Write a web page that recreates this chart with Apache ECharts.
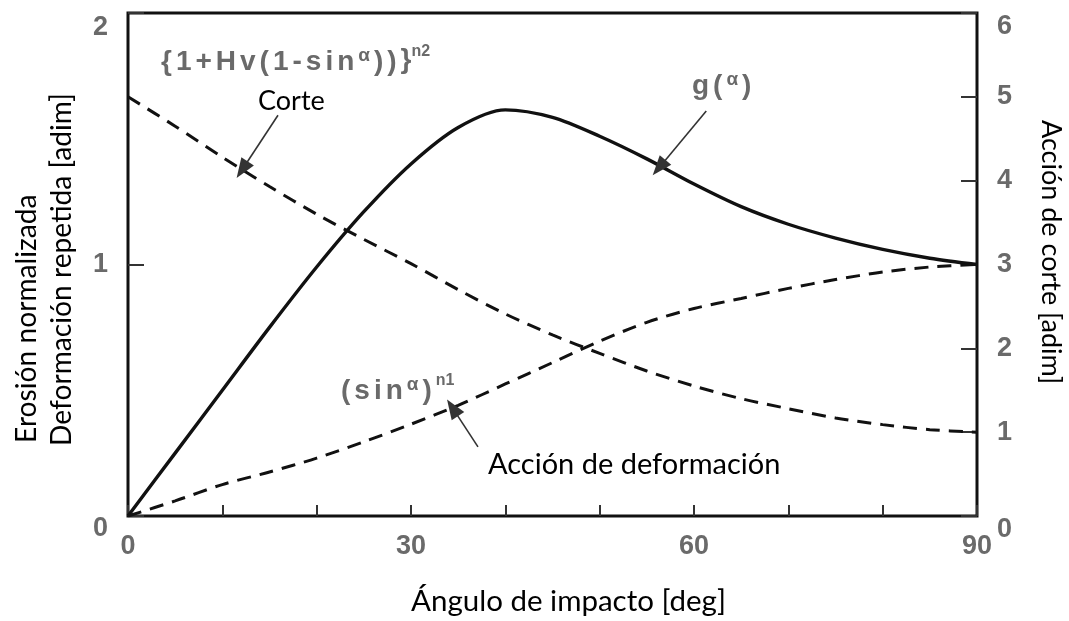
<!DOCTYPE html>
<html>
<head>
<meta charset="utf-8">
<script src="https://cdn.jsdelivr.net/npm/echarts@6/dist/echarts.min.js"></script>
<style>
  html, body { margin: 0; padding: 0; background: #fff; }
  #chart { width: 1069px; height: 621px; }
</style>
</head>
<body>
<div id="chart"></div>
<script>
// Impact angle (degrees)
const angles = [0, 5, 10, 15, 20, 25, 30, 35, 40, 45, 50, 55, 60, 65, 70, 75, 80, 85, 90];
// g(alpha): normalized erosion (left axis)
const gValues = [0, 0.25, 0.50, 0.75, 0.99, 1.21, 1.40, 1.545, 1.615, 1.585, 1.51, 1.42, 1.32, 1.23, 1.16, 1.105, 1.06, 1.025, 1.00];
// {1+Hv(1-sin a)}^n2: cutting action (right axis)
const corteValues = [5.00, 4.65, 4.28, 3.93, 3.60, 3.30, 3.01, 2.70, 2.41, 2.16, 1.94, 1.73, 1.55, 1.40, 1.28, 1.17, 1.09, 1.03, 1.00];
// (sin a)^n1: repeated deformation (left axis)
const deformValues = [0, 0.06, 0.125, 0.175, 0.23, 0.295, 0.365, 0.44, 0.525, 0.61, 0.695, 0.77, 0.825, 0.865, 0.905, 0.94, 0.97, 0.99, 1.00];

const xLabelTicks = [0, 30, 60, 90];
const leftTicks = [0, 1, 2];
const rightTicks = [0, 1, 2, 3, 4, 5, 6];

const pairs = (vals) => angles.map((a, i) => [a, vals[i]]);

const black = '#111';
const grey = '#6a6a6a';
const sansBlack = 'Lato, "Open Sans", sans-serif';
const sansGrey = '"Liberation Sans", Arial, sans-serif';

// Letter-spaced grey formula text built from rich tokens
function spaced(str, style) {
  return Array.from(str).map(ch => ch === '}' ? ch : '{' + style + '|' + ch + '}').join('');
}
const formulaRich = {
  f: { fontFamily: sansGrey, fontSize: 28, fontWeight: 'bold', fill: grey, padding: [0, 4, 0, 0], lineHeight: 32, verticalAlign: 'bottom' },
  al: { fontFamily: sansGrey, fontSize: 19, fontWeight: 'bold', fill: grey, padding: [0, 4, 11, 0], lineHeight: 22, verticalAlign: 'bottom' },
  sup: { fontFamily: sansGrey, fontSize: 16, fontWeight: 'bold', fill: grey, lineHeight: 18, verticalAlign: 'top' }
};

const arrowStyle = { color: '#333', width: 1.6, type: 'solid' };
function arrow(from, to) {
  return {
    silent: true,
    animation: false,
    symbol: ['none', 'triangle'],
    symbolSize: [15, 20],
    lineStyle: arrowStyle,
    itemStyle: { color: '#111' },
    label: { show: false },
    emphasis: { disabled: true },
    data: [[{ coord: from }, { coord: to }]]
  };
}

const chart = echarts.init(document.getElementById('chart'), null, { renderer: 'canvas' });

const tickLabelStyle = { fontFamily: sansGrey, fontSize: 27, fontWeight: 'bold', color: grey };

chart.setOption({
  animation: false,
  backgroundColor: '#fff',
  grid: { left: 128, right: 92, top: 13, bottom: 99, show: true, borderColor: black, borderWidth: 3, backgroundColor: 'transparent' },
  xAxis: {
    type: 'value', min: 0, max: 90, interval: 10,
    axisLine: { show: false },
    axisTick: { show: true, inside: true, length: 11, lineStyle: { color: '#333', width: 2 } },
    splitLine: { show: false },
    axisLabel: Object.assign({
      margin: 17,
      formatter: (v) => xLabelTicks.includes(v) ? String(v) : ''
    }, tickLabelStyle),
    name: 'Ángulo de impacto [deg]',
    nameLocation: 'middle',
    nameGap: 70,
    nameTextStyle: { fontFamily: sansBlack, fontSize: 29.5, color: '#000', padding: [0, 0, 0, 32] }
  },
  yAxis: [
    {
      type: 'value', min: 0, max: 2, interval: 1, position: 'left',
      axisLine: { show: false },
      axisTick: { show: true, inside: true, length: 16, lineStyle: { color: '#333', width: 2 } },
      splitLine: { show: false },
      axisLabel: Object.assign({
        margin: 20,
        verticalAlignMinLabel: 'middle',
        verticalAlignMaxLabel: 'middle',
        formatter: (v) => leftTicks.includes(v) ? (v === 2 ? '{top|2}' : v === 0 ? '{bot|0}' : String(v)) : '',
        rich: {
          top: Object.assign({ padding: [30, 0, 0, 0] }, tickLabelStyle),
          bot: Object.assign({ padding: [26, 0, 0, 0] }, tickLabelStyle)
        }
      }, tickLabelStyle)
    },
    {
      type: 'value', min: 0, max: 6, interval: 1, position: 'right',
      axisLine: { show: false },
      axisTick: { show: true, inside: true, length: 16, lineStyle: { color: '#333', width: 2 } },
      splitLine: { show: false },
      axisLabel: Object.assign({
        margin: 20,
        verticalAlignMinLabel: 'middle',
        verticalAlignMaxLabel: 'middle',
        formatter: (v) => rightTicks.includes(v) ? (v === 6 ? '{top|6}' : v === 0 ? '{bot|0}' : String(v)) : '',
        rich: {
          top: Object.assign({ padding: [28, 0, 0, 0] }, tickLabelStyle),
          bot: Object.assign({ padding: [28, 0, 0, 0] }, tickLabelStyle)
        }
      }, tickLabelStyle)
    }
  ],
  series: [
    {
      name: 'g(α)', type: 'line', xAxisIndex: 0, yAxisIndex: 0,
      data: pairs(gValues), smooth: 0.3, showSymbol: false, symbol: 'none',
      lineStyle: { color: black, width: 3.4, type: 'solid' },
      emphasis: { disabled: true },
      markLine: arrow([61.3, 1.61], [56.3, 1.385])
    },
    {
      name: 'Corte', type: 'line', xAxisIndex: 0, yAxisIndex: 1,
      data: pairs(corteValues), smooth: 0.3, showSymbol: false, symbol: 'none',
      lineStyle: { color: black, width: 3, type: [14, 9] },
      emphasis: { disabled: true },
      markLine: arrow([15.9, 4.78], [12.1, 4.13])
    },
    {
      name: 'Acción de deformación', type: 'line', xAxisIndex: 0, yAxisIndex: 0,
      data: pairs(deformValues), smooth: 0.3, showSymbol: false, symbol: 'none',
      lineStyle: { color: black, width: 3, type: [14, 9] },
      emphasis: { disabled: true },
      markLine: arrow([37.1, 0.275], [34.4, 0.43])
    }
  ],
  graphic: [
    // left axis titles, rotated to read bottom-to-top
    { type: 'text', x: 27, y: 443, rotation: Math.PI / 2, silent: true,
      style: { text: 'Erosión normalizada', fontFamily: sansBlack, fontSize: 28.2, fill: '#000', align: 'left', verticalAlign: 'middle' } },
    { type: 'text', x: 62, y: 446, rotation: Math.PI / 2, silent: true,
      style: { text: 'Deformación repetida [adim]', fontFamily: sansBlack, fontSize: 28.2, fill: '#000', align: 'left', verticalAlign: 'middle' } },
    // right axis title, reading top-to-bottom
    { type: 'text', x: 1051, y: 120, rotation: -Math.PI / 2, silent: true,
      style: { text: 'Acción de corte [adim]', fontFamily: sansBlack, fontSize: 27, fill: '#000', align: 'left', verticalAlign: 'middle' } },
    // curve annotations
    { type: 'text', x: 161, y: 44, silent: true,
      style: { text: spaced('{1+Hv(1-sin', 'f') + '{al|α}' + spaced('))', 'f') + '}' + '{sup|n2}', rich: formulaRich,
               fontFamily: sansGrey, fontSize: 28, fontWeight: 'bold', fill: grey } },
    { type: 'text', x: 258, y: 101, silent: true,
      style: { text: 'Corte', fontFamily: sansBlack, fontSize: 27, fill: '#000', align: 'left', verticalAlign: 'middle' } },
    { type: 'text', x: 692, y: 68, silent: true,
      style: { text: spaced('g(', 'f') + '{al|α}' + '{f|)}', rich: formulaRich, fontFamily: sansGrey, fontSize: 28, fontWeight: 'bold', fill: grey } },
    { type: 'text', x: 341, y: 373, silent: true,
      style: { text: spaced('(sin', 'f') + '{al|α}' + '{f|)}' + '{sup|n1}', rich: formulaRich, fontFamily: sansGrey, fontSize: 28, fontWeight: 'bold', fill: grey } },
    { type: 'text', x: 488, y: 465, silent: true,
      style: { text: 'Acción de deformación', fontFamily: sansBlack, fontSize: 29, fill: '#000', align: 'left', verticalAlign: 'middle' } }
  ]
});
</script>
</body>
</html>
